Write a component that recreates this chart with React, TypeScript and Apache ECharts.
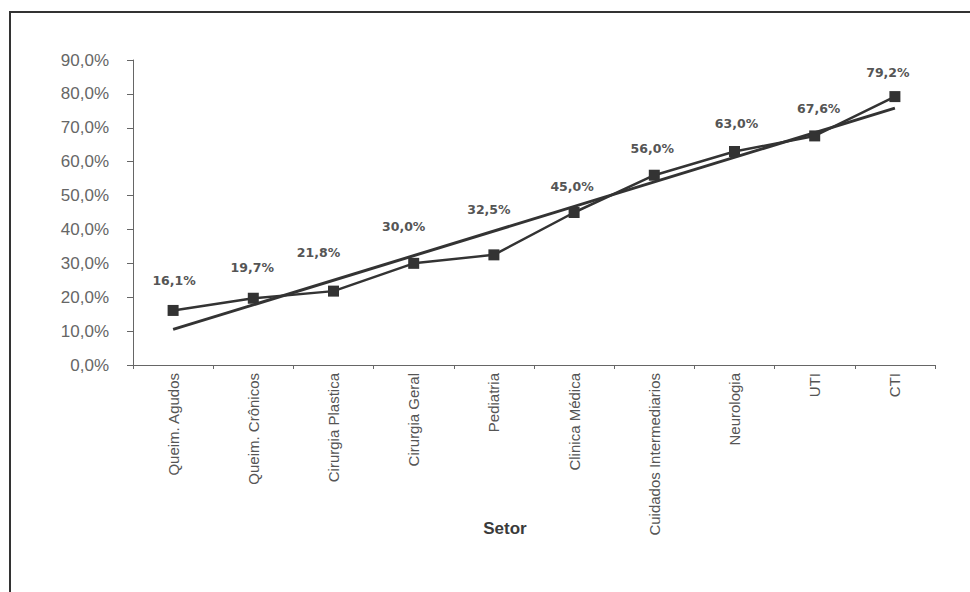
import React, { useEffect, useRef } from "react";
import * as echarts from "echarts";

// Sectors along the horizontal axis
const setores = [
  "Queim. Agudos",
  "Queim. Crônicos",
  "Cirurgia Plastica",
  "Cirurgia Geral",
  "Pediatria",
  "Clinica Médica",
  "Cuidados Intermediarios",
  "Neurologia",
  "UTI",
  "CTI",
];

// Percentage per sector
const valores = [16.1, 19.7, 21.8, 30.0, 32.5, 45.0, 56.0, 63.0, 67.6, 79.2];

// Linear trend line: start and end values (first and last sector)
const tendenciaInicio = 10.5;
const tendenciaFim = 75.8;

const yTicks = [0, 10, 20, 30, 40, 50, 60, 70, 80, 90];

const fmt = (v: number) => v.toFixed(1).replace(".", ",") + "%";

export default function App() {
  const ref = useRef<HTMLDivElement>(null);

  useEffect(() => {
    if (!ref.current) return;
    const chart = echarts.init(ref.current, null, { renderer: "svg" });

    // hand-placed label nudges (px) relative to each marker centre
    const labelNudge: [number, number][] = [
      [1, -30], [-1, -31], [-15, -39], [-10, -37], [-5, -45],
      [-2, -26], [-2, -27], [2, -28], [4, -27], [-7, -24],
    ];

    const tendencia = setores.map((_, i) =>
      i === 0 ? tendenciaInicio : i === setores.length - 1 ? tendenciaFim : null
    );

    chart.setOption({
      animation: false,
      backgroundColor: "#ffffff",
      textStyle: { fontFamily: "Liberation Sans, Arial, sans-serif" },
      grid: { left: 133, right: 35, top: 60, bottom: 227 },
      xAxis: {
        type: "category",
        data: setores,
        boundaryGap: true,
        axisLine: { lineStyle: { color: "#666", width: 1 } },
        axisTick: { show: true, alignWithLabel: false, length: 4, lineStyle: { color: "#666" } },
        axisLabel: {
          rotate: 90,
          color: "#555",
          fontSize: 15,
          margin: 8,
          interval: 0,
        },
      },
      yAxis: {
        type: "value",
        min: yTicks[0],
        max: yTicks[yTicks.length - 1],
        interval: 10,
        splitLine: { show: false },
        axisLine: { show: true, lineStyle: { color: "#666", width: 1 } },
        axisTick: { show: true, length: 6, lineStyle: { color: "#666" } },
        axisLabel: {
          color: "#666",
          fontSize: 17,
          margin: 24,
          formatter: (v: number) => fmt(v),
        },
      },
      graphic: [
        {
          type: "rect",
          shape: { x: 10, y: 12, width: 980, height: 600 },
          style: { fill: "none", stroke: "#333", lineWidth: 2 },
          silent: true,
        },
        {
          type: "text",
          x: 505,
          y: 528,
          style: {
            text: "Setor",
            fill: "#3a3a3a",
            align: "center",
            verticalAlign: "middle",
            font: "bold 17px 'Liberation Sans', Arial, sans-serif",
          },
        },
      ],
      series: [
        {
          type: "line",
          data: tendencia,
          connectNulls: true,
          showSymbol: false,
          symbol: "none",
          lineStyle: { color: "#333", width: 3 },
          silent: true,
        },
        {
          type: "line",
          data: valores.map((v, i) => ({
            value: v,
            label: { offset: labelNudge[i] },
          })),
          symbol: "rect",
          symbolSize: 11,
          itemStyle: { color: "#333" },
          lineStyle: { color: "#333", width: 2.5 },
          label: {
            show: true,
            position: "inside",
            color: "#555",
            fontSize: 12.5,
            fontWeight: "bold",
            fontFamily: "DejaVu Sans, sans-serif",
            formatter: (p: any) => fmt(p.value),
          },
        },
      ],
    });
    return () => chart.dispose();
  }, []);

  return (
    <div
      ref={ref}
      style={{ position: "fixed", left: 0, top: 0, width: 970, height: 592 }}
    />
  );
}
